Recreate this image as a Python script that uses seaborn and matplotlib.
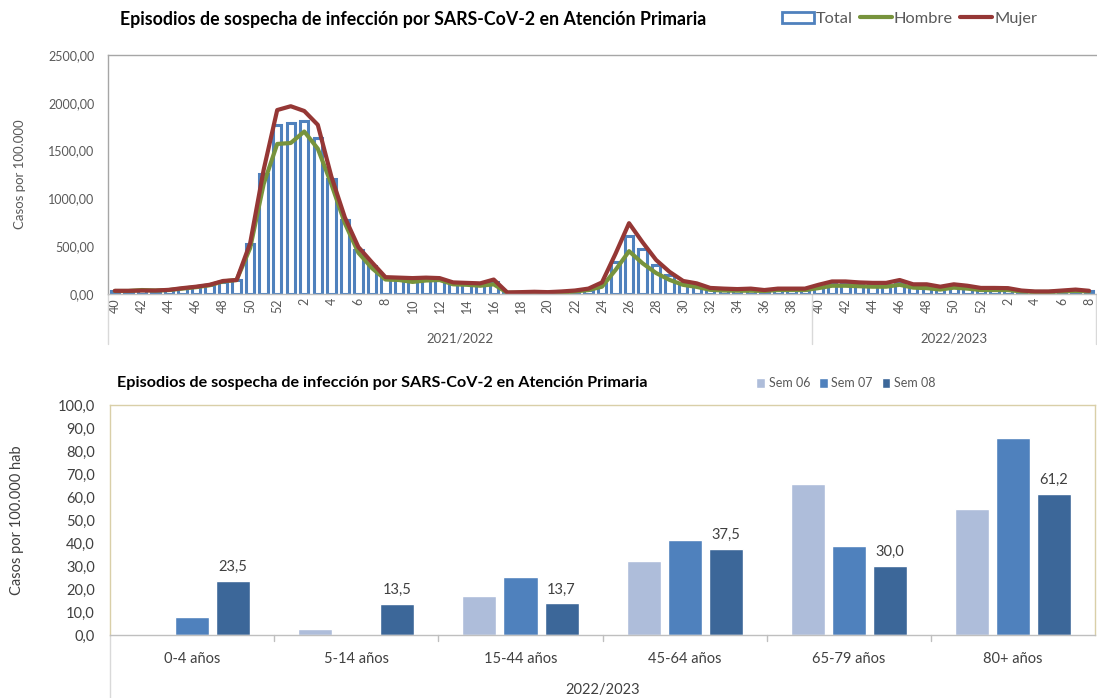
import numpy as np
import pandas as pd
import seaborn as sns
import matplotlib.pyplot as plt
import matplotlib.transforms as mtransforms
from matplotlib.ticker import FuncFormatter, MultipleLocator
from matplotlib.patches import Patch
from matplotlib.lines import Line2D

# semanas: temporada 2021/2022 (40..52, 1..39) y 2022/2023 (40..52, 1..8)
weeks = list(range(40, 53)) + list(range(1, 40)) + list(range(40, 53)) + list(range(1, 9))
seasons = ['2021/2022', '2022/2023']

total = [35, 30, 38, 35, 40, 60, 75, 90, 120, 145,
         520, 1250, 1770, 1785, 1815, 1635, 1200, 770, 455, 290,
         165, 155, 140, 150, 150, 110, 105, 95, 120, 15,
         15, 20, 15, 20, 30, 45, 100, 335, 605, 465,
         300, 195, 110, 90, 55, 45, 40, 40, 35, 45,
         45, 45, 70, 100, 100, 95, 90, 90, 110, 80,
         75, 60, 80, 65, 50, 50, 50, 30, 25, 25,
         30, 40, 30]
hombre = [30, 30, 40, 35, 40, 55, 70, 90, 130, 145,
          480, 1150, 1570, 1580, 1700, 1520, 1150, 740, 430, 270,
          150, 145, 125, 140, 145, 100, 95, 85, 100, 12,
          12, 15, 12, 15, 25, 40, 75, 250, 447, 320,
          218, 146, 94, 73, 42, 35, 33, 33, 30, 40,
          40, 40, 60, 85, 85, 80, 75, 75, 95, 65,
          60, 45, 65, 55, 40, 40, 40, 25, 20, 20,
          25, 30, 25]
mujer = [32, 32, 35, 35, 42, 60, 75, 95, 135, 145,
         530, 1300, 1925, 1965, 1915, 1770, 1230, 800, 490, 330,
         175, 170, 165, 170, 165, 120, 115, 110, 150, 15,
         18, 22, 18, 25, 35, 55, 120, 420, 740, 540,
         355, 230, 135, 110, 62, 55, 50, 55, 40, 55,
         55, 55, 95, 130, 130, 120, 115, 115, 145, 100,
         100, 75, 100, 85, 62, 62, 60, 35, 25, 25,
         35, 45, 32]

age_groups = ['0-4 años', '5-14 años', '15-44 años', '45-64 años', '65-79 años', '80+ años']
sem_labels = ['Sem 06', 'Sem 07', 'Sem 08']
sem06 = [0.0, 2.6, 17.0, 32.3, 65.8, 54.9]
sem07 = [7.8, 0.0, 25.1, 41.4, 38.8, 85.7]
sem08 = [23.5, 13.5, 13.7, 37.5, 30.0, 61.2]

sns.set_theme(style='white')
plt.rcParams['font.family'] = ['Lato', 'DejaVu Sans']

blue = '#4F81BD'
green = '#77933C'
red = '#953735'
grey_txt = '#595959'

fig = plt.figure(figsize=(10.97, 6.98), dpi=100)

# ---------- grafico superior ----------
ax1 = fig.add_axes([0.0985, 0.579, 0.9005, 0.342])
idx = np.arange(len(weeks))
df_top = pd.DataFrame({'i': idx, 'total': total, 'hombre': hombre, 'mujer': mujer})

sns.barplot(data=df_top, x='i', y='total', native_scale=True, color='white',
            edgecolor=blue, linewidth=2.2, width=0.62, ax=ax1)
sns.lineplot(data=df_top, x='i', y='hombre', color=green, linewidth=3, ax=ax1)
sns.lineplot(data=df_top, x='i', y='mujer', color=red, linewidth=3, ax=ax1)

ax1.set_xlim(-0.5, len(weeks) - 0.5)
ax1.set_ylim(0, 2500)
ax1.yaxis.set_major_locator(MultipleLocator(500))
ax1.yaxis.set_major_formatter(FuncFormatter(lambda v, p: f'{v:.2f}'.replace('.', ',')))
ax1.set_xticks(idx[::2])
ax1.set_xticklabels([str(w) for w in weeks[::2]], rotation=90, fontsize=9, color=grey_txt)
ax1.tick_params(axis='y', labelsize=9, labelcolor=grey_txt, length=0, pad=10)
ax1.tick_params(axis='x', length=0, pad=3)
ax1.set_xlabel('')
ax1.set_ylabel('Casos por 100.000', fontsize=9.5, color=grey_txt)
ax1.yaxis.set_label_coords(-0.083, 0.5)
for s in ax1.spines.values():
    s.set_color('#A6A6A6')
    s.set_linewidth(1)
ax1.spines['bottom'].set_color('#BFBFBF')
ax1.spines['right'].set_visible(False)

trans1 = mtransforms.blended_transform_factory(ax1.transData, ax1.transAxes)
for xs in [-0.5, 51.5, len(weeks) - 0.5]:
    ax1.plot([xs, xs], [0, -0.21], transform=trans1, color='#D9D9D9', lw=1, clip_on=False)
ax1.text(25.5, -0.185, seasons[0], transform=trans1, ha='center', va='center',
         fontsize=9.5, color=grey_txt)
ax1.text(62.0, -0.185, seasons[1], transform=trans1, ha='center', va='center',
         fontsize=9.5, color=grey_txt)

fig.text(0.109, 0.972, 'Episodios de sospecha de infección por SARS-CoV-2 en Atención Primaria',
         fontsize=12.8, fontweight='bold', color='black', va='center')
handles = [Patch(facecolor='white', edgecolor=blue, linewidth=2),
           Line2D([0], [0], color=green, lw=3),
           Line2D([0], [0], color=red, lw=3)]
fig.legend(handles, ['Total', 'Hombre', 'Mujer'], loc='center left',
           bbox_to_anchor=(0.699, 0.973), ncol=3, frameon=False, fontsize=11.8,
           labelcolor=grey_txt, handlelength=2.0, handletextpad=0.1, columnspacing=0.4)

# ---------- grafico inferior ----------
ax2 = fig.add_axes([0.1003, 0.0903, 0.898, 0.3295])
df_bot = pd.DataFrame({'grupo': age_groups * 3,
                       'semana': [s for s in sem_labels for _ in age_groups],
                       'valor': sem06 + sem07 + sem08})
palette = {'Sem 06': '#AEBDDA', 'Sem 07': '#4F81BD', 'Sem 08': '#3C6799'}
sns.barplot(data=df_bot, x='grupo', y='valor', hue='semana', palette=palette,
            width=0.75, gap=0.17, order=age_groups, hue_order=sem_labels,
            saturation=1, ax=ax2, legend=False)
ax2.bar_label(ax2.containers[2], fmt=lambda v: f'{v:.1f}'.replace('.', ','),
              padding=5, fontsize=10.5, color='#404040')
ax2.set_xlim(-0.5, 5.5)
ax2.set_ylim(0, 100)
ax2.yaxis.set_major_locator(MultipleLocator(10))
ax2.yaxis.set_major_formatter(FuncFormatter(lambda v, p: f'{v:.1f}'.replace('.', ',')))
ax2.tick_params(axis='y', labelsize=10.5, labelcolor='#404040', length=0, pad=11)
ax2.tick_params(axis='x', labelsize=10.5, labelcolor='#404040', length=0, pad=12)
ax2.set_xlabel('')
ax2.set_ylabel('Casos por 100.000 hab', fontsize=10.5, color='#404040')
ax2.yaxis.set_label_coords(-0.087, 0.5)
for s in ax2.spines.values():
    s.set_color('#D9CFA8')
    s.set_linewidth(1)
ax2.spines['bottom'].set_color('#BFBFBF')

trans2 = mtransforms.blended_transform_factory(ax2.transData, ax2.transAxes)
ax2.plot([-0.5, -0.5], [0, -0.3], transform=trans2, color='#D9D9D9', lw=1, clip_on=False)
for xs in np.arange(0.5, 5.5, 1):
    ax2.plot([xs, xs], [0, -0.025], transform=trans2, color='#BFBFBF', lw=1, clip_on=False)
ax2.text(2.5, -0.24, '2022/2023', transform=trans2, ha='center', va='center',
         fontsize=10.5, color='#404040')

fig.text(0.107, 0.451, 'Episodios de sospecha de infección por SARS-CoV-2 en Atención Primaria',
         fontsize=11.6, fontweight='bold', color='black', va='center')
h2 = [Patch(facecolor=palette[s]) for s in sem_labels]
fig.legend(h2, sem_labels, loc='center left', bbox_to_anchor=(0.679, 0.451), ncol=3,
           frameon=False, fontsize=9, labelcolor=grey_txt, handlelength=0.7,
           handleheight=0.9, handletextpad=0.3, columnspacing=0.7)

fig.savefig('out.png', dpi=100)
